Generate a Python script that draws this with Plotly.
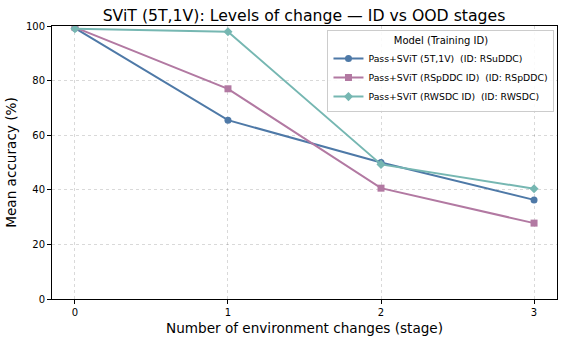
import plotly.graph_objects as go

stages = [0, 1, 2, 3]
acc_5t1v = [99.2, 65.5, 50.0, 36.3]
acc_rspddc = [99.5, 77.0, 40.6, 27.8]
acc_rwsdc = [99.0, 97.9, 49.3, 40.4]

names = ["Pass+SViT (5T,1V)  (ID: RSuDDC)",
         "Pass+SViT (RSpDDC ID)  (ID: RSpDDC)",
         "Pass+SViT (RWSDC ID)  (ID: RWSDC)"]
colors = ["#4e79a7", "#b279a2", "#76b7b2"]
symbols = ["circle", "square", "diamond"]

fig = go.Figure()
for name, ys, col, sym in zip(names, [acc_5t1v, acc_rspddc, acc_rwsdc], colors, symbols):
    fig.add_trace(go.Scatter(
        x=stages, y=ys, name=name, mode="lines+markers",
        line=dict(color=col, width=2),
        marker=dict(symbol=sym, size=7, color=col),
    ))

axis_common = dict(
    showline=True, mirror=True, linecolor="black", linewidth=1,
    ticks="outside", ticklen=4, tickcolor="black",
    showgrid=True, gridcolor="rgba(0,0,0,0.15)", griddash="dot", gridwidth=1,
    zeroline=False, automargin=False,
    tickfont=dict(family="DejaVu Sans", size=10, color="black"),
)

fig.update_layout(
    width=563, height=342,
    margin=dict(l=52, r=6, t=26, b=43, autoexpand=False),
    paper_bgcolor="white", plot_bgcolor="white",
    font=dict(family="DejaVu Sans", color="black"),
    title=dict(text="SViT (5T,1V): Levels of change — ID vs OOD stages",
               x=0.54, xanchor="center", y=0.955, yanchor="middle",
               font=dict(size=15.7, color="black")),
    xaxis=dict(axis_common, range=[-0.15, 3.15], tickvals=stages,
               title=dict(text="Number of environment changes (stage)",
                          font=dict(size=13.6), standoff=6)),
    yaxis=dict(axis_common, range=[0, 100], tickvals=[0, 20, 40, 60, 80, 100],
               title=dict(text="Mean accuracy (%)", font=dict(size=13.6), standoff=6)),
    legend=dict(
        title=dict(text="Model (Training ID)", side="top center",
                   font=dict(size=10)),
        x=0.995, y=0.985, xanchor="right", yanchor="top",
        bgcolor="rgba(255,255,255,0.85)", bordercolor="#cccccc", borderwidth=1,
        font=dict(size=9.3), itemwidth=30, tracegroupgap=0,
    ),
)

# page body has a default margin; drop it so the figure sits at the top-left
fig.write_html("out.html", config={"displayModeBar": False},
               post_script="document.body.style.margin='0';")
